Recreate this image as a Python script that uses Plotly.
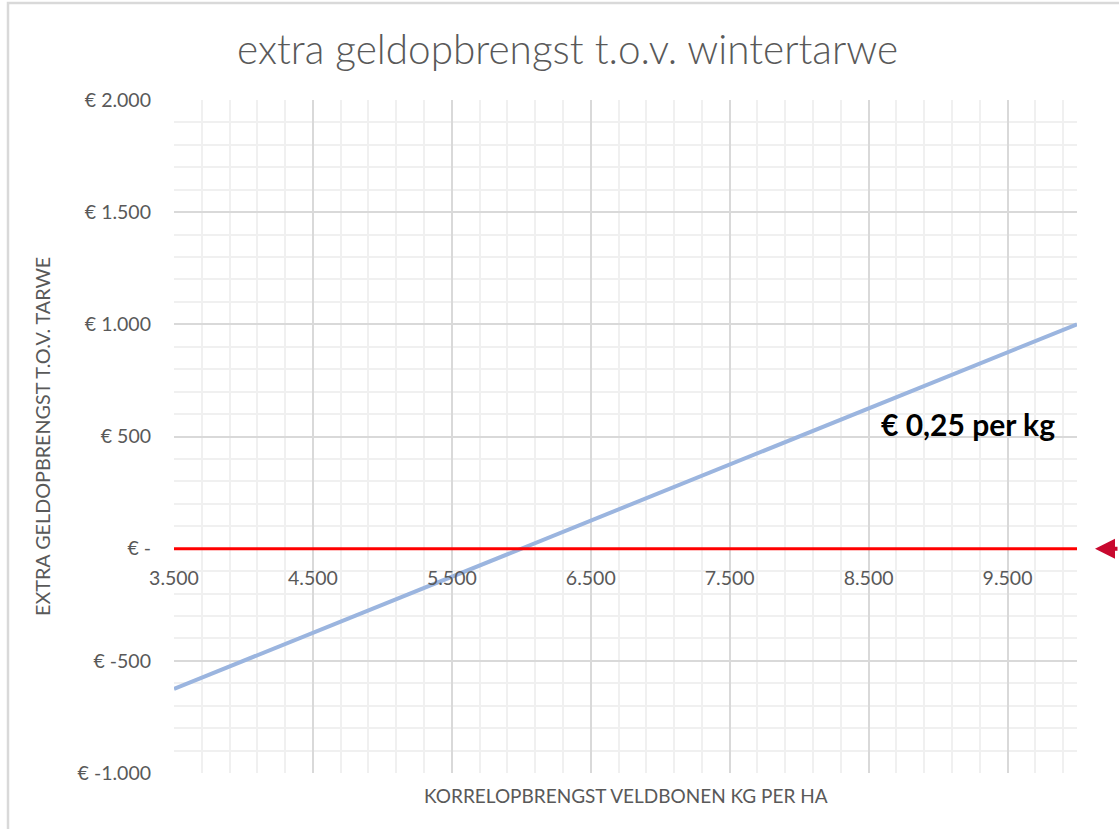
import plotly.graph_objects as go

# Data
line_x = [3500, 10000]
line_y = [-625, 1000]          # € 0,25 per kg above 6.000 kg
zero_x = [3500, 10000]
zero_y = [0, 0]

x_ticks = [3500, 4500, 5500, 6500, 7500, 8500, 9500]
x_ticklabels = ["3.500", "4.500", "5.500", "6.500", "7.500", "8.500", "9.500"]
y_ticks = [-1000, -500, 0, 500, 1000, 1500, 2000]
y_ticklabels = ["€ -1.000", "€ -500", "€ -", "€ 500", "€ 1.000", "€ 1.500", "€ 2.000"]

title_text = "extra geldopbrengst t.o.v. wintertarwe"
x_title = "KORRELOPBRENGST VELDBONEN KG PER HA"
y_title = "EXTRA GELDOPBRENGST T.O.V. TARWE"
label_text = "€ 0,25 per kg"

FONT = "Lato"
GREY = "#595959"

W, H = 1119, 829
L, R, T, B = 174, 42, 100, 56
PW, PH = W - L - R, H - T - B

def px_x(px):
    return (px - L) / PW

def px_y(py):
    return (H - B - py) / PH

fig = go.Figure()
fig.add_trace(go.Scatter(x=line_x, y=line_y, mode="lines",
                         line=dict(color="#9bb5df", width=4), showlegend=False, hoverinfo="skip"))
fig.add_trace(go.Scatter(x=zero_x, y=zero_y, mode="lines",
                         line=dict(color="#ff0000", width=3), showlegend=False, hoverinfo="skip"))

fig.update_layout(
    width=W, height=H,
    margin=dict(l=L, r=R, t=T, b=B, autoexpand=False),
    paper_bgcolor="white", plot_bgcolor="white",
    font=dict(family=FONT, color=GREY),
    xaxis=dict(range=[3500, 10000], tickvals=x_ticks, ticktext=x_ticklabels,
               showgrid=True, gridcolor="#d9d9d9", gridwidth=1.5,
               minor=dict(tick0=3500, dtick=200, showgrid=True, gridcolor="#f0f0f0", gridwidth=1.5),
               anchor="free", position=1/3, showline=False, zeroline=False, ticks="",
               ticklabelstandoff=16, tickfont=dict(size=19.5, color=GREY, family=FONT)),
    yaxis=dict(range=[-1000, 2000], tickvals=y_ticks, ticktext=y_ticklabels,
               showgrid=True, gridcolor="#d9d9d9", gridwidth=1.5,
               minor=dict(tick0=-1000, dtick=100, showgrid=True, gridcolor="#f0f0f0", gridwidth=1.5),
               showline=False, zeroline=False, ticks="",
               ticklabelstandoff=22, tickfont=dict(size=19.5, color=GREY, family=FONT)),
)

fig.add_annotation(text=title_text, xref="paper", yref="paper", x=px_x(567), y=px_y(48),
                   showarrow=False, xanchor="center", yanchor="middle",
                   font=dict(size=40.5, color=GREY, family=FONT + " Light, " + FONT))
fig.add_annotation(text=x_title, xref="paper", yref="paper", x=px_x(626), y=px_y(795),
                   showarrow=False, xanchor="center", yanchor="middle",
                   font=dict(size=19, color=GREY, family=FONT))
fig.add_annotation(text=y_title, xref="paper", yref="paper", x=px_x(42), y=px_y(437),
                   showarrow=False, xanchor="center", yanchor="middle", textangle=-90,
                   font=dict(size=19.8, color=GREY, family=FONT))
fig.add_annotation(text="<b>" + label_text + "</b>", x=9215, y=556, xref="x", yref="y",
                   showarrow=False, xanchor="center", yanchor="middle",
                   font=dict(size=30, color="black", family=FONT))
# red arrow at right edge
fig.add_annotation(text="", xref="paper", yref="paper", x=px_x(1095), y=1/3,
                   ax=40, ay=0, showarrow=True, arrowhead=2, arrowsize=1.0,
                   arrowwidth=4, arrowcolor="#c8082e")
# outer frame (left and top border)
fig.add_shape(type="path", xref="paper", yref="paper",
              path=f"M {px_x(8)},{px_y(840)} L {px_x(8)},{px_y(3)} L {px_x(1130)},{px_y(3)}",
              line=dict(color="#d9d9d9", width=2.5))

fig.write_html("out.html", config={"displayModeBar": False},
               post_script="document.body.style.margin='0';document.body.style.overflow='hidden';")
